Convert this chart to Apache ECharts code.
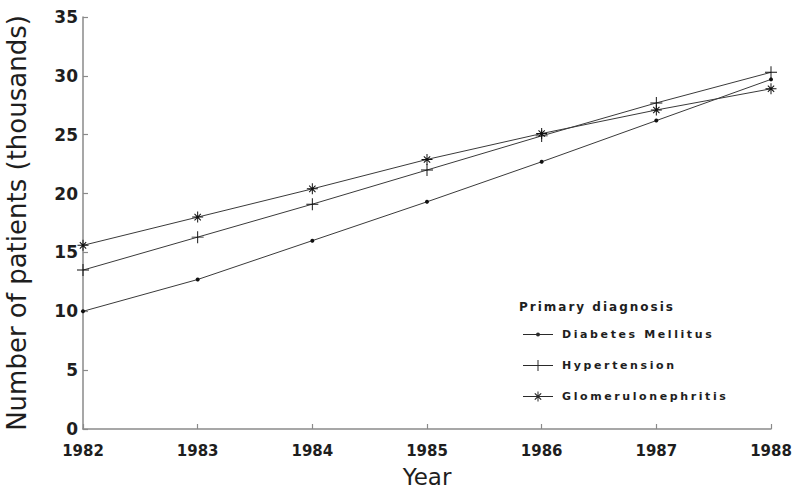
<!DOCTYPE html>
<html>
<head>
<meta charset="utf-8">
<script src="https://cdn.jsdelivr.net/npm/echarts@6/dist/echarts.min.js"></script>
<style>
  html, body { margin: 0; padding: 0; background: #fff; }
  #chart { width: 793px; height: 496px; }
  /* wide letter spacing for the legend block */
  #chart text[style*="11px"] { letter-spacing: 2.6px; }
  #chart text[style*="12px"] { letter-spacing: 2px; }
</style>
</head>
<body>
<div id="chart"></div>
<script>
const years = ['1982', '1983', '1984', '1985', '1986', '1987', '1988'];
const diabetesMellitus = [10.0, 12.7, 16.0, 19.3, 22.7, 26.2, 29.7];
const hypertension = [13.5, 16.3, 19.1, 22.0, 24.9, 27.7, 30.3];
const glomerulonephritis = [15.6, 18.0, 20.4, 22.9, 25.1, 27.1, 28.9];
const yTicks = { min: 0, max: 35, interval: 5 };

// marker shapes: thin plus, and a plus combined with an X (asterisk)
const plusPath = 'path://M9.2,0L10.8,0L10.8,9.2L20,9.2L20,10.8L10.8,10.8L10.8,20L9.2,20L9.2,10.8L0,10.8L0,9.2L9.2,9.2Z';
const starPath = 'path://M9.1,0L10.9,0L10.9,9.1L20,9.1L20,10.9L10.9,10.9L10.9,20L9.1,20L9.1,10.9L0,10.9L0,9.1L9.1,9.1Z' +
  'M3.6,4.9L4.9,3.6L16.4,15.1L15.1,16.4Z' +
  'M15.1,3.6L16.4,4.9L4.9,16.4L3.6,15.1Z';

// legend keys: a short line segment with the series marker in its middle
const dotKey = 'path://M0,1.5L30,1.5L30,2.5L0,2.5Z M17,2A2,2 0 1 1 13,2A2,2 0 1 1 17,2Z';
const plusKey = 'path://M0,5L30,5L30,6L0,6Z M14.5,0L15.5,0L15.5,11L14.5,11Z';
const starKey = 'path://M0,4.5L30,4.5L30,5.5L0,5.5Z M14.5,0L15.5,0L15.5,10L14.5,10Z' +
  'M11.4,2.24L12.24,1.4L18.6,7.76L17.76,8.6Z M17.76,1.4L18.6,2.24L12.24,8.6L11.4,7.76Z';

const FONT = 'DejaVu Sans';
const INK = '#1e1e1e';
const AXIS = '#8a8a8a';
const LINE = '#3a3a3a';

const chart = echarts.init(document.getElementById('chart'), null, { renderer: 'svg' });

function lineSeries(name, data, symbol, size) {
  return {
    name: name,
    type: 'line',
    data: data,
    symbol: symbol,
    symbolSize: size,
    showAllSymbol: true,
    lineStyle: { color: LINE, width: 1 },
    itemStyle: { color: '#111', borderWidth: 0 },
    emphasis: { disabled: true },
    animation: false
  };
}

chart.setOption({
  backgroundColor: '#fff',
  animation: false,
  grid: { left: 83, right: 22, top: 17, bottom: 67, containLabel: false, outerBoundsMode: 'none' },
  title: {
    text: 'Primary diagnosis',
    left: 514,
    top: 296,
    textStyle: { fontFamily: FONT, fontSize: 12, fontWeight: 'bold', color: INK }
  },
  legend: {
    orient: 'vertical',
    left: 518,
    top: 324,
    itemWidth: 30,
    itemHeight: 12,
    itemGap: 20,
    itemStyle: { color: '#2a2a2a' },
    textStyle: { fontFamily: FONT, fontSize: 11, fontWeight: 'bold', color: INK, padding: [0, 0, 0, 4] },
    data: [
      { name: 'Diabetes Mellitus', icon: dotKey },
      { name: 'Hypertension', icon: plusKey },
      { name: 'Glomerulonephritis', icon: starKey }
    ]
  },
  xAxis: {
    type: 'category',
    data: years,
    boundaryGap: false,
    name: 'Year',
    nameLocation: 'middle',
    nameGap: 36,
    nameTextStyle: { fontFamily: FONT, fontSize: 23, color: INK },
    axisLine: { lineStyle: { color: AXIS, width: 1.5 } },
    axisTick: { inside: true, length: 5, alignWithLabel: true, lineStyle: { color: AXIS, width: 1.2 } },
    axisLabel: { margin: 14, fontFamily: FONT, fontSize: 15, fontWeight: 'bold', color: INK },
    splitLine: { show: false }
  },
  yAxis: {
    type: 'value',
    min: yTicks.min,
    max: yTicks.max,
    interval: yTicks.interval,
    name: 'Number of patients (thousands)',
    nameLocation: 'middle',
    nameGap: 53,
    nameTextStyle: { fontFamily: FONT, fontSize: 26, color: INK },
    axisLine: { show: true, lineStyle: { color: AXIS, width: 1.5 } },
    axisTick: { show: true, inside: true, length: 5, lineStyle: { color: AXIS, width: 1.2 } },
    axisLabel: { margin: 5, fontFamily: FONT, fontSize: 17, fontWeight: 'bold', color: INK },
    splitLine: { show: false }
  },
  series: [
    lineSeries('Diabetes Mellitus', diabetesMellitus, 'circle', 4),
    lineSeries('Hypertension', hypertension, plusPath, 12),
    lineSeries('Glomerulonephritis', glomerulonephritis, starPath, 11)
  ]
});
</script>
</body>
</html>
